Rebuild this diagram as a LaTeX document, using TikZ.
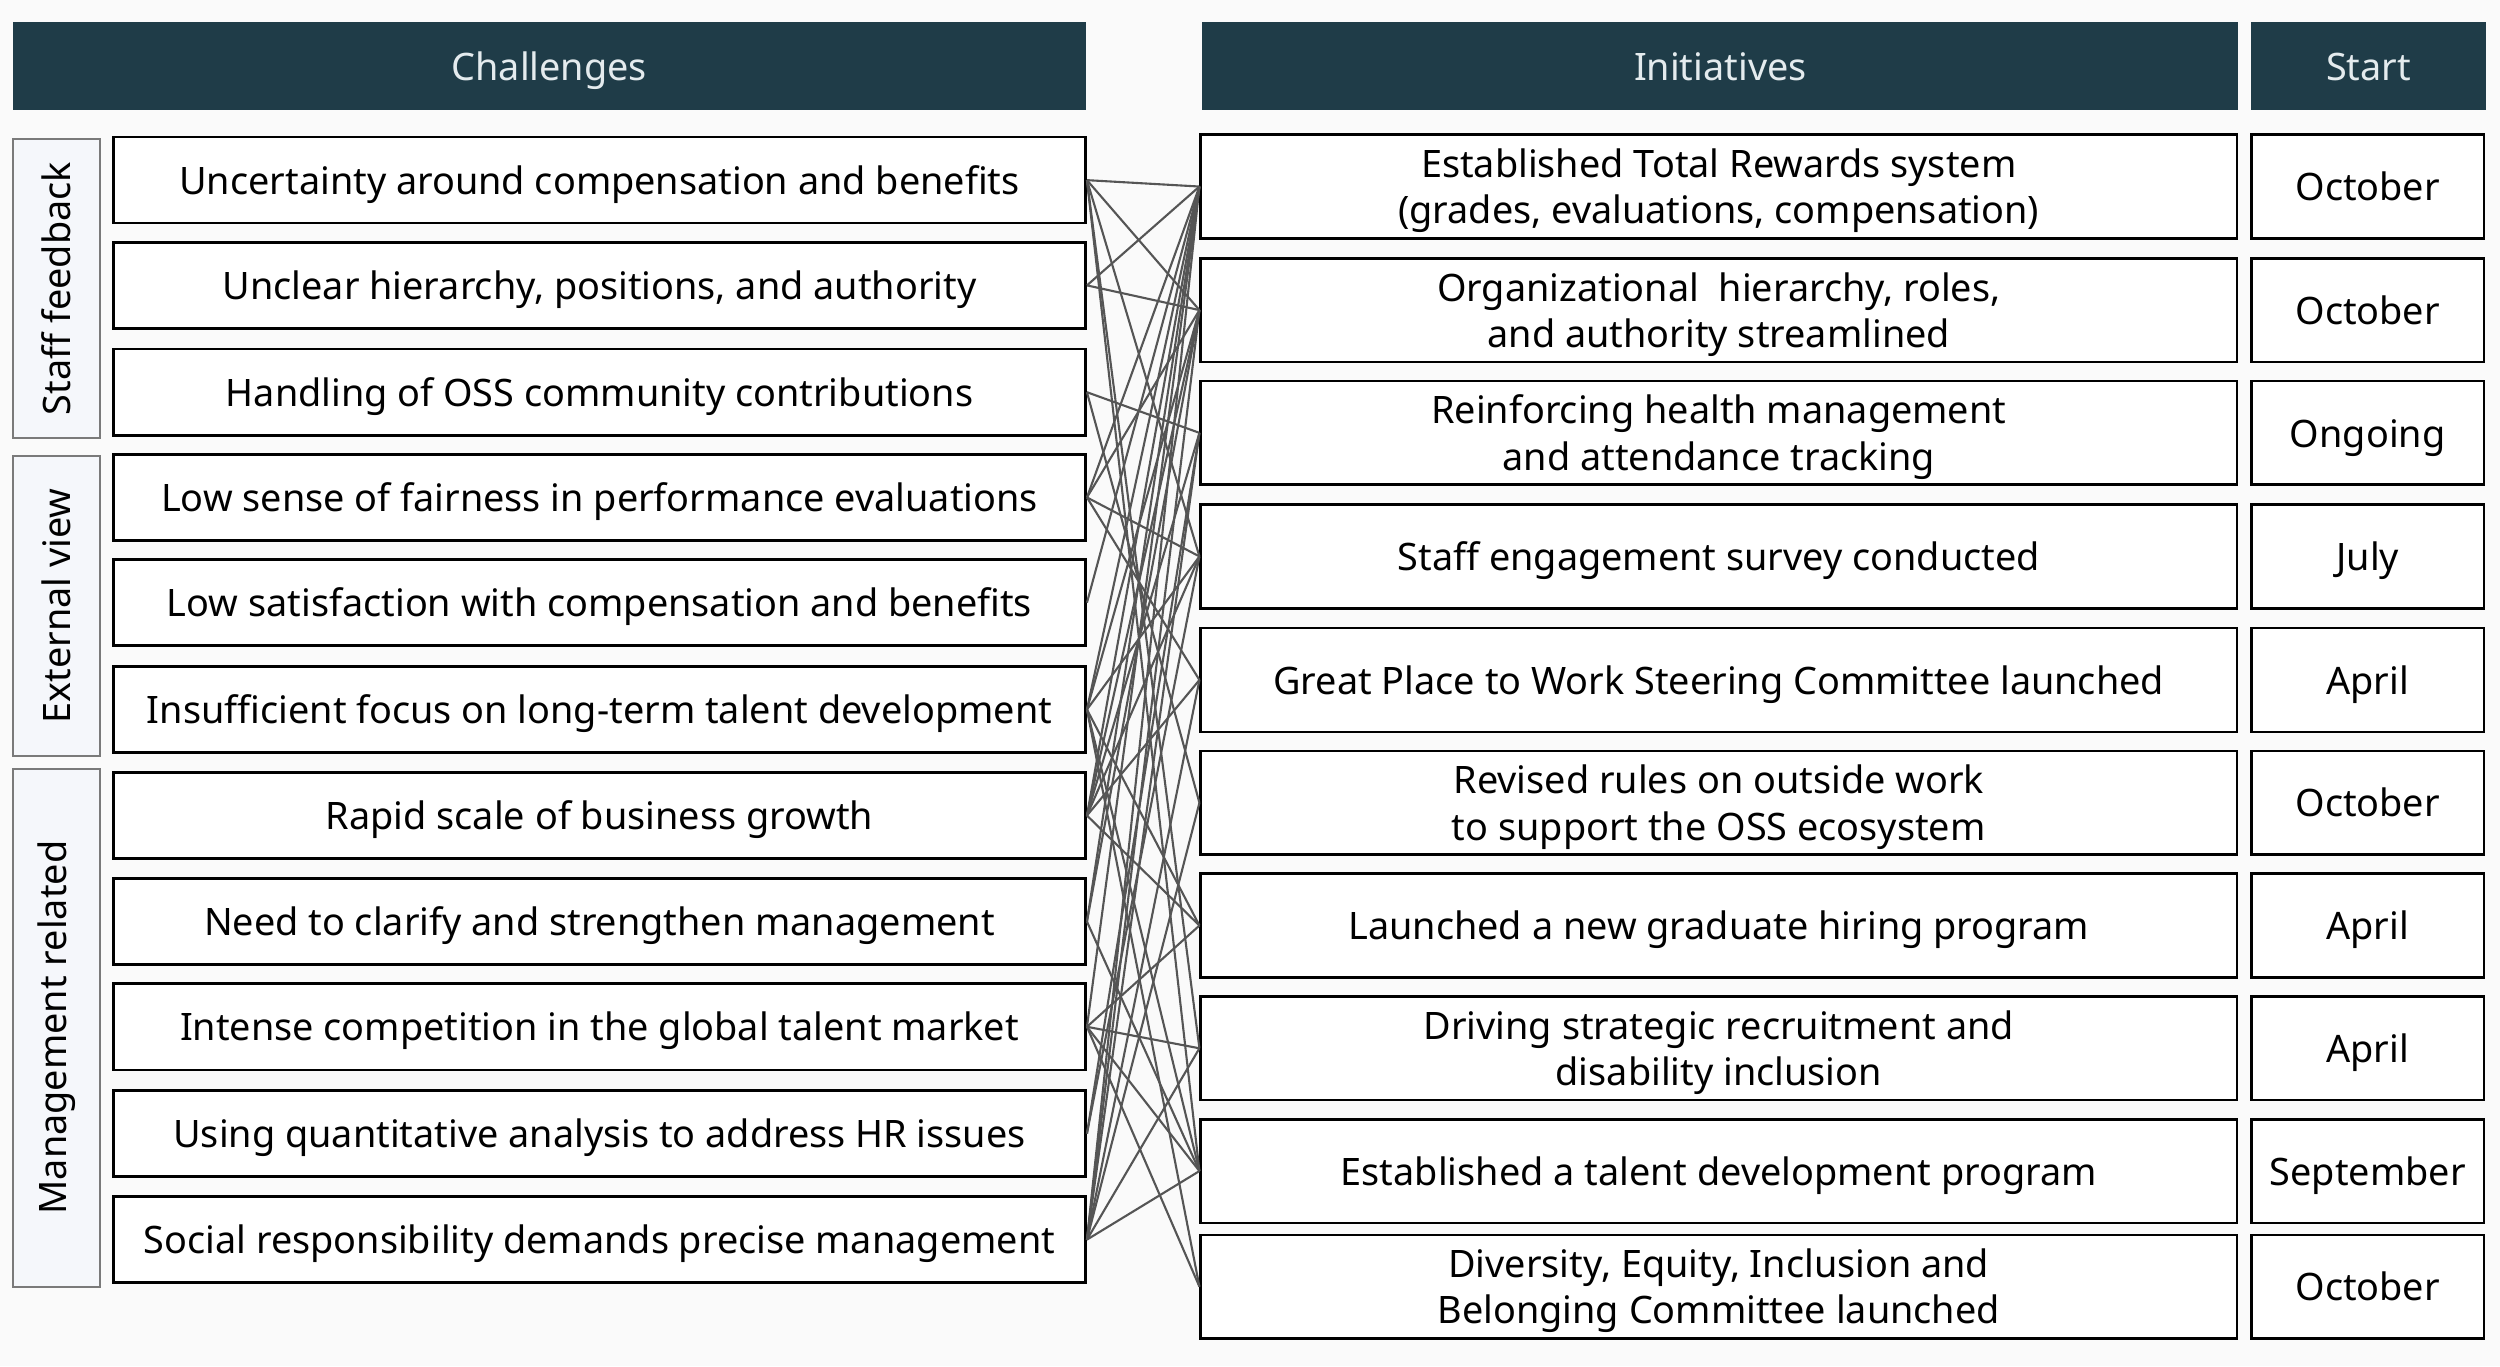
\documentclass[tikz,border=0pt]{standalone}
\usepackage{fontspec}
\setmainfont{Noto Sans}
\usepackage{xcolor}
\usepackage{tikz}

\definecolor{headfill}{HTML}{1F3C48}
\definecolor{headtext}{HTML}{E4EBEE}
\definecolor{pagefill}{HTML}{FAFAFA}
\definecolor{groupfill}{HTML}{F5F7FB}
\definecolor{groupline}{HTML}{7A7A7A}
\definecolor{linkgray}{HTML}{555555}

\newcommand\boxstrut{\rule[-0.25em]{0pt}{1.25em}}

\tikzset{
  boxtext/.style={font=\fontsize{13.5}{16.5}\selectfont, execute at begin node=\boxstrut},
  head/.style={boxtext, fill=headfill, text=headtext, inner sep=0pt, minimum height=1.1cm},
  group/.style={font=\fontsize{13.5}{16.5}\selectfont, draw=groupline, fill=groupfill,
    line width=0.7pt, inner sep=0pt, rotate=90, minimum height=1.1cm},
  challenge/.style={boxtext, draw=black, fill=white, line width=0.9pt, inner sep=0pt,
    minimum width=12.2cm, minimum height=1.08cm},
  initiative/.style={boxtext, draw=black, fill=white, line width=0.9pt, inner sep=0pt,
    minimum width=13cm, minimum height=1.3cm, align=center},
  start/.style={initiative, minimum width=2.92cm},
  link/.style={draw=linkgray, line width=0.75pt},
}

\begin{document}
\begin{tikzpicture}[x=0.02cm, y=-0.02cm]
\fill[pagefill] (0,0) rectangle (1568,857);
\useasboundingbox (0,0) rectangle (1568,857);

% headers
\node[head, minimum width=13.46cm] (hchal) at (344.5,41.5) {Challenges};
\node[head, minimum width=13cm] (hinit) at (1079,41.5) {Initiatives};
\node[head, minimum width=2.94cm] (hstart) at (1485.5,41.5) {Start};

% groups
\node[group, minimum width=3.76cm] (gstaff) at (35.5,181) {Staff feedback};
\node[group, minimum width=3.76cm] (gext) at (35.5,380) {External view};
\node[group, minimum width=6.5cm] (gmgmt) at (35.5,644.5) {Management related};

% challenges
\node[challenge] (c1) at (376,113) {Uncertainty around compensation and benefits};
\node[challenge] (c2) at (376,179) {Unclear hierarchy, positions, and authority};
\node[challenge] (c3) at (376,246) {Handling of OSS community contributions};
\node[challenge] (c4) at (376,312) {Low sense of fairness in performance evaluations};
\node[challenge] (c5) at (376,378) {Low satisfaction with compensation and benefits};
\node[challenge] (c6) at (376,445) {Insufficient focus on long-term talent development};
\node[challenge] (c7) at (376,511.5) {Rapid scale of business growth};
\node[challenge] (c8) at (376,578) {Need to clarify and strengthen management};
\node[challenge] (c9) at (376,644) {Intense competition in the global talent market};
\node[challenge] (c10) at (376,711) {Using quantitative analysis to address HR issues};
\node[challenge] (c11) at (376,777.5) {Social responsibility demands precise management};

% initiatives
\node[initiative] (i1) at (1078,117) {\boxstrut Established Total Rewards system\\(grades, evaluations, compensation)};
\node[initiative] (i2) at (1078,194.5) {\boxstrut Organizational\ \ hierarchy, roles,\\and authority streamlined};
\node[initiative] (i3) at (1078,271.5) {\boxstrut Reinforcing health management\\and attendance tracking};
\node[initiative] (i4) at (1078,349) {Staff engagement survey conducted};
\node[initiative] (i5) at (1078,426.5) {Great Place to Work Steering Committee launched};
\node[initiative] (i6) at (1078,503.5) {\boxstrut Revised rules on outside work\\to support the OSS ecosystem};
\node[initiative] (i7) at (1078,580.5) {Launched a new graduate hiring program};
\node[initiative] (i8) at (1078,657.5) {\boxstrut Driving strategic recruitment and\\disability inclusion};
\node[initiative] (i9) at (1078,734.5) {Established a talent development program};
\node[initiative] (i10) at (1078,807) {\boxstrut Diversity, Equity, Inclusion and\\Belonging Committee launched};

% start months
\node[start] (s1) at (1485,117) {October};
\node[start] (s2) at (1485,194.5) {October};
\node[start] (s3) at (1485,271.5) {Ongoing};
\node[start] (s4) at (1485,349) {July};
\node[start] (s5) at (1485,426.5) {April};
\node[start] (s6) at (1485,503.5) {October};
\node[start] (s7) at (1485,580.5) {April};
\node[start] (s8) at (1485,657.5) {April};
\node[start] (s9) at (1485,734.5) {September};
\node[start] (s10) at (1485,807) {October};

% links challenge -> initiative
\foreach \c/\i in {c1/i1, c1/i2, c1/i4, c1/i8, c1/i9,
    c2/i1, c2/i2,
    c3/i3, c3/i6,
    c4/i1, c4/i2, c4/i4, c4/i5,
    c5/i1,
    c6/i1, c6/i2, c6/i4, c6/i7, c6/i9, c6/i10,
    c7/i1, c7/i2, c7/i3, c7/i4, c7/i5, c7/i7,
    c8/i1, c8/i2, c8/i9,
    c9/i1, c9/i7, c9/i8, c9/i9, c9/i10,
    c10/i3, c10/i4,
    c11/i1, c11/i2, c11/i3, c11/i5, c11/i6, c11/i8, c11/i9}
  \draw[link] (\c.east) -- (\i.west);
\end{tikzpicture}
\end{document}
